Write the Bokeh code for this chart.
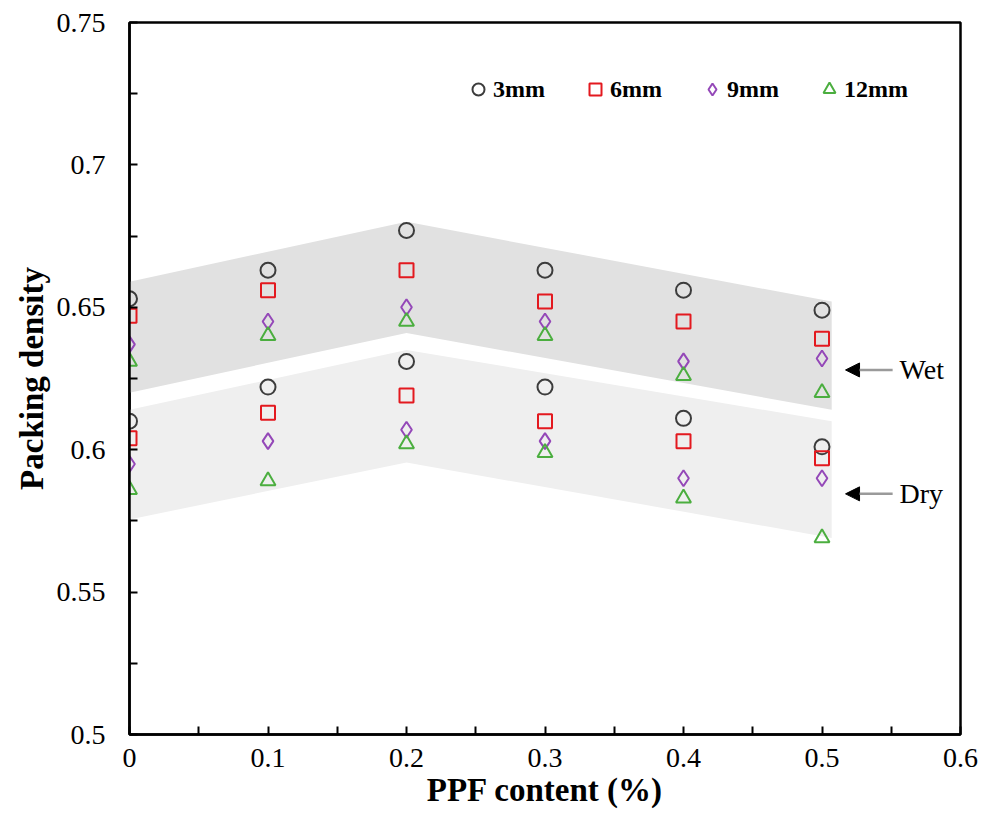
from bokeh.plotting import figure
from bokeh.models import FixedTicker, Legend, LegendItem, Arrow, NormalHead, Label
from bokeh.embed import file_html
from bokeh.resources import INLINE

# ---- data ----
ppf = [0, 0.1, 0.2, 0.3, 0.4, 0.5]
wet_3mm = [0.653, 0.663, 0.677, 0.663, 0.656, 0.649]
wet_6mm = [0.647, 0.656, 0.663, 0.652, 0.645, 0.639]
wet_9mm = [0.637, 0.645, 0.650, 0.645, 0.631, 0.632]
wet_12mm = [0.631, 0.640, 0.645, 0.640, 0.626, 0.620]
dry_3mm = [0.610, 0.622, 0.631, 0.622, 0.611, 0.601]
dry_6mm = [0.604, 0.613, 0.619, 0.610, 0.603, 0.597]
dry_9mm = [0.595, 0.603, 0.607, 0.603, 0.590, 0.590]
dry_12mm = [0.586, 0.589, 0.602, 0.599, 0.583, 0.569]

band_x = [0, 0.2, 0.507]
wet_band_top = [0.659, 0.680, 0.652]
wet_band_bottom = [0.620, 0.641, 0.614]
dry_band_top = [0.614, 0.635, 0.610]
dry_band_bottom = [0.5755, 0.5955, 0.569]

series_names = ["3mm", "6mm", "9mm", "12mm"]
x_ticks = [0, 0.1, 0.2, 0.3, 0.4, 0.5, 0.6]
x_tick_labels = ["0", "0.1", "0.2", "0.3", "0.4", "0.5", "0.6"]
y_ticks = [0.5, 0.55, 0.6, 0.65, 0.7, 0.75]
y_tick_labels = ["0.5", "0.55", "0.6", "0.65", "0.7", "0.75"]

wet_arrow_y = 0.628
dry_arrow_y = 0.5845

SERIF = "Liberation Serif"

p = figure(width=990, height=821, x_range=(0, 0.6), y_range=(0.5, 0.75),
           output_backend="svg", toolbar_location=None,
           min_border_left=129, min_border_right=30, min_border_top=22, min_border_bottom=87)

p.xgrid.visible = False
p.ygrid.visible = False
p.outline_line_color = "black"
p.outline_line_width = 2.5
p.background_fill_color = "white"
p.border_fill_color = "white"

# bands
p.varea(x=band_x, y1=wet_band_bottom, y2=wet_band_top, fill_color="#e1e1e1")
p.varea(x=band_x, y1=dry_band_bottom, y2=dry_band_top, fill_color="#efefef")

styles = [
    ("circle", "#3c3c3c", 15),
    ("square", "#e3191f", 14),
    ("diamond", "#9448b8", 16),
    ("triangle", "#4bae3f", 15),
]
wet = [wet_3mm, wet_6mm, wet_9mm, wet_12mm]
dry = [dry_3mm, dry_6mm, dry_9mm, dry_12mm]
items = []
for (marker, color, size), w, d, name in zip(styles, wet, dry, series_names):
    r = p.scatter(ppf, w, marker=marker, size=size, fill_color=None,
                  line_color=color, line_width=2)
    p.scatter(ppf, d, marker=marker, size=size, fill_color=None,
              line_color=color, line_width=2)
    items.append(LegendItem(label=name, renderers=[r]))

legend = Legend(items=items, orientation="horizontal", location=(334, 630),
                background_fill_alpha=0, border_line_color=None,
                label_text_font=SERIF, label_text_font_style="bold",
                label_text_font_size="24px", label_text_color="black",
                glyph_width=30, glyph_height=30,
                label_standoff=0, spacing=35, padding=5, margin=0)
p.add_layout(legend, "center")

# arrows + labels
for yv, txt in [(wet_arrow_y, "Wet"), (dry_arrow_y, "Dry")]:
    p.add_layout(Arrow(end=NormalHead(size=14, fill_color="black", line_color="black"),
                       x_start=0.551, y_start=yv, x_end=0.517, y_end=yv,
                       line_color="#9a9a9a", line_width=2.5))
    p.add_layout(Label(x=0.556, y=yv, text=txt, text_font=SERIF,
                       text_font_size="28px", text_baseline="middle",
                       text_color="black"))

# axes
for ax in (p.xaxis[0], p.yaxis[0]):
    ax.axis_line_width = 2.5
    ax.axis_line_color = "black"
    ax.major_tick_in = 8
    ax.major_tick_out = 0
    ax.minor_tick_in = 8
    ax.minor_tick_out = 0
    ax.major_tick_line_width = 2
    ax.minor_tick_line_width = 2
    ax.major_label_text_font = SERIF
    ax.major_label_text_font_size = "28px"
    ax.major_label_text_color = "black"
    ax.axis_label_text_font = SERIF
    ax.axis_label_text_font_style = "bold"
    ax.axis_label_text_font_size = "33px"
    ax.axis_label_text_color = "black"

p.xaxis.ticker = FixedTicker(ticks=x_ticks, minor_ticks=[0.05, 0.15, 0.25, 0.35, 0.45, 0.55])
p.yaxis.ticker = FixedTicker(ticks=y_ticks, minor_ticks=[0.525, 0.575, 0.625, 0.675, 0.725])
p.xaxis.major_label_overrides = dict(zip(x_ticks, x_tick_labels))
p.yaxis.major_label_overrides = dict(zip(y_ticks, y_tick_labels))
p.xaxis.axis_label = "PPF content (%)"
p.yaxis.axis_label = "Packing density"
p.xaxis.major_label_standoff = 14
p.yaxis.major_label_standoff = 24
p.xaxis.axis_label_standoff = 2
p.yaxis.axis_label_standoff = 4

open("out.html", "w").write(file_html(p, INLINE))
